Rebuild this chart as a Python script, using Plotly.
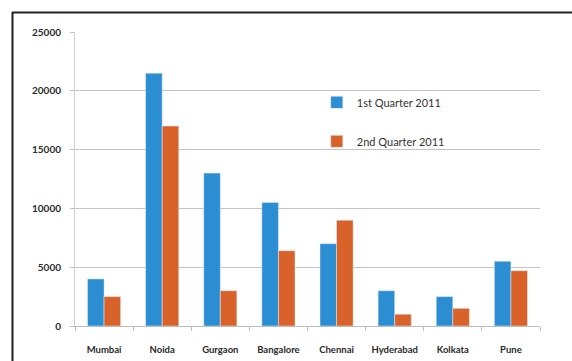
import plotly.graph_objects as go

cities = ["Mumbai", "Noida", "Gurgaon", "Bangalore", "Chennai", "Hyderabad", "Kolkata", "Pune"]
q1_2011 = [4000, 21500, 13000, 10500, 7000, 3000, 2500, 5500]
q2_2011 = [2500, 17000, 3000, 6400, 9000, 1000, 1500, 4700]
y_ticks = [0, 5000, 10000, 15000, 20000, 25000]

BLUE = "#2b8dd2"
ORANGE = "#d8622a"
FONT = "Lato, Liberation Sans, sans-serif"

fig = go.Figure()
fig.add_trace(go.Bar(x=cities, y=q1_2011, name="1st Quarter 2011", marker_color=BLUE,
                     legendgroup="q1"))
fig.add_trace(go.Bar(x=cities, y=q2_2011, name="2nd Quarter 2011", marker_color=ORANGE,
                     legendgroup="q2"))

fig.update_layout(
    width=572, height=361,
    margin=dict(l=75, r=32, t=32, b=35, autoexpand=False),
    paper_bgcolor="white", plot_bgcolor="white",
    barmode="group", bargap=0.43, bargroupgap=0,
    font=dict(family=FONT, size=10, color="#333333"),
    showlegend=True,
    legend=dict(
        x=0.52, y=0.81, xanchor="left", yanchor="top",
        traceorder="grouped",
        bgcolor="rgba(0,0,0,0)", font=dict(size=11, color="#333333"),
        tracegroupgap=20, itemwidth=30,
    ),
    xaxis=dict(
        type="category", showgrid=False, automargin=False,
        showline=True, linecolor="#bdbdbd", linewidth=1,
        ticks="outside", tickson="boundaries", ticklen=4, tickcolor="#bdbdbd",
        ticklabelstandoff=15, tickangle=0,
        tickfont=dict(size=9.5, color="#2a2a2a", family=FONT, weight="bold"),
    ),
    yaxis=dict(
        range=[0, 25000], tickvals=y_ticks, ticktext=[str(v) for v in y_ticks],
        automargin=False,
        showgrid=True, gridcolor="#c4c4c4", gridwidth=1,
        showline=True, linecolor="#d0d0d0", linewidth=1,
        ticks="outside", ticklen=4, tickcolor="#bdbdbd",
        ticklabelstandoff=7,
        zeroline=False,
        tickfont=dict(size=10, color="#2a2a2a", family=FONT, weight="bold"),
    ),
    shapes=[
        dict(type="line", xref="paper", yref="paper",
             x0=(12 - 75) / 465, x1=(600 - 75) / 465,
             y0=(326 - 12.5) / 294, y1=(326 - 12.5) / 294,
             line=dict(color="#222222", width=2)),
        dict(type="line", xref="paper", yref="paper",
             x0=(12.5 - 75) / 465, x1=(12.5 - 75) / 465,
             y0=(326 - 12) / 294, y1=(326 - 380) / 294,
             line=dict(color="#222222", width=2)),
    ],
)

fig.write_html("out.html")
